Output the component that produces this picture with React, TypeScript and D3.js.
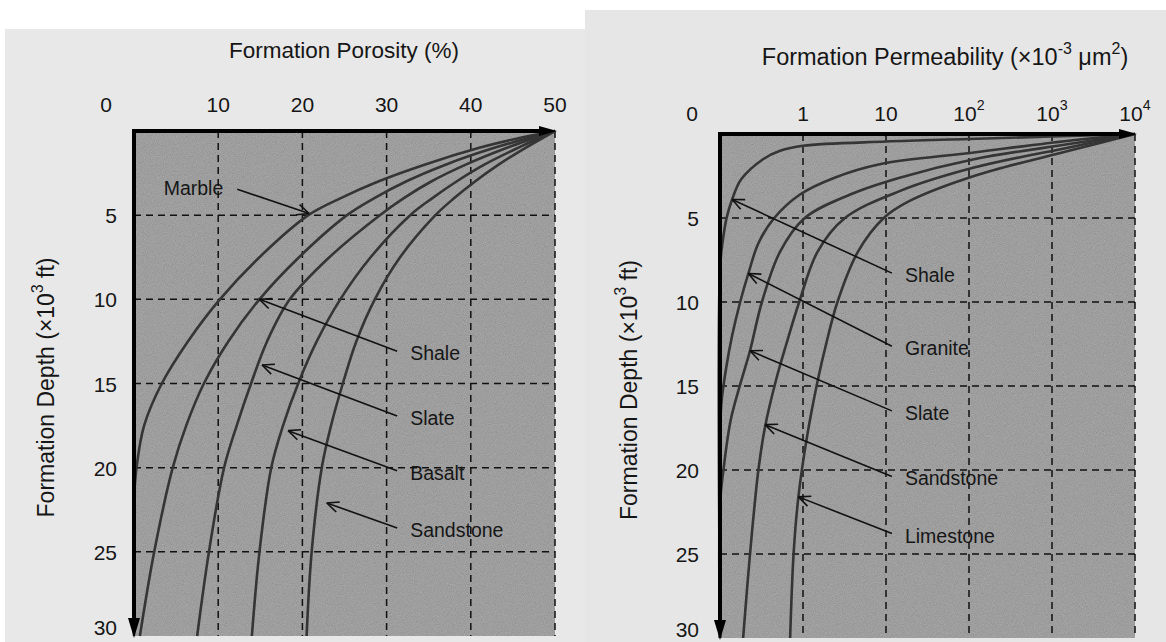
import React, { useEffect, useRef } from 'react';
import * as d3 from 'd3';

// depth is in 10^3 ft, porosity in %, permeability in 10^-3 um^2
const porosityTicks = [0, 10, 20, 30, 40, 50];
const depthTicks = [5, 10, 15, 20, 25, 30];
const permTicks = [0.1, 1, 10, 100, 1000, 10000];
const permTickLabels = [['0', ''], ['1', ''], ['10', ''], ['10', '2'], ['10', '3'], ['10', '4']];

// [depth, porosity]
const marblePorosity = [[0, 50], [0.5, 45], [1, 41], [2, 34.5], [3, 29], [4, 24.5], [5, 20.7], [7.5, 14.9], [10, 10.2], [12.5, 6.4], [15, 3.3], [17.5, 1.2], [20, 0.3], [22, 0], [30, 0]];
const shalePorosity = [[0, 50], [1, 42.8], [2, 37], [3, 32.3], [4, 28.5], [5, 25.3], [7.5, 19.6], [10, 14.9], [12.5, 11.2], [15, 8.3], [17.5, 6.2], [20, 4.6], [25, 2.4], [30, 0.7]];
const slatePorosity = [[0, 50], [1, 44.3], [2, 39.4], [3, 35.3], [4, 32], [5, 29.2], [7.5, 23.2], [10, 18.5], [12.5, 15.8], [15, 13.9], [17.5, 12.2], [20, 10.7], [25, 8.9], [30, 7.5]];
const basaltPorosity = [[0, 50], [1, 45.6], [2, 41.6], [3, 38.3], [4, 35.4], [5, 32.8], [7.5, 28.1], [10, 24.5], [12.5, 21.7], [15, 19.5], [17.5, 17.7], [20, 16.3], [25, 14.9], [30, 14]];
const sandstonePorosity = [[0, 50], [1, 46.5], [2, 43.3], [3, 40.5], [4, 38], [5, 35.8], [7.5, 31.6], [10, 28.6], [12.5, 26.4], [15, 24.8], [17.5, 23.4], [20, 22.3], [25, 21.1], [30, 20.5]];

// [depth, permeability]
const shalePerm = [[0, 10000], [0.15, 1000], [0.3, 100], [0.45, 10], [0.7, 1], [1, 0.53], [1.5, 0.33], [2.7, 0.18], [3.9, 0.14], [5, 0.12], [6.5, 0.107], [8, 0.1], [30, 0.1]];
const granitePerm = [[0, 10000], [0.4, 1600], [1.1, 115], [1.8, 8.4], [2.6, 2.4], [3.6, 0.92], [5, 0.45], [6.5, 0.29], [8.3, 0.22], [10, 0.175], [12, 0.14], [14, 0.118], [16, 0.104], [18, 0.1], [30, 0.1]];
const slatePerm = [[0, 10000], [0.6, 1600], [1.5, 115], [2.6, 14.6], [3.6, 3.7], [5, 1.05], [7, 0.53], [10, 0.32], [12.9, 0.23], [14.7, 0.18], [17, 0.135], [20, 0.11], [22, 0.1], [30, 0.1]];
const sandstonePerm = [[0, 10000], [0.8, 1600], [2, 115], [3.4, 14.6], [5, 3.2], [7, 1.5], [10, 0.9], [12.5, 0.63], [14.7, 0.47], [17.4, 0.35], [20, 0.29], [25, 0.23], [30, 0.19]];
const limestonePerm = [[0, 10000], [1, 1600], [2.5, 115], [4, 19], [5, 9.4], [7, 4.6], [10, 2.6], [12.5, 1.9], [14.7, 1.5], [18, 1.12], [21.6, 0.88], [25, 0.77], [30, 0.7]];

// annotations: name, label [depth, value], arrow tip [depth, value]
const porosityNotes = [
    ['Shale', [13.2, 32.8], [10, 14.9]],
    ['Slate', [17.05, 32.8], [13.9, 15.2]],
    ['Basalt', [20.3, 32.8], [17.8, 18.3]],
    ['Sandstone', [23.7, 32.8], [22.1, 22.9]],
];
const permNotes = [
    ['Shale', [8.4, 16.9], [3.9, 0.14]],
    ['Granite', [12.75, 16.9], [8.3, 0.22]],
    ['Slate', [16.6, 16.9], [12.9, 0.23]],
    ['Sandstone', [20.5, 16.9], [17.3, 0.35]],
    ['Limestone', [23.9, 16.9], [21.6, 0.88]],
];

const FONT = '"Liberation Sans", Arial, sans-serif';

const App = () => {
    const svgRef = useRef(null);

    useEffect(() => {
        const svg = d3.select(svgRef.current);
        svg.selectAll('*').remove();

        const defs = svg.append('defs');
        const grain = defs.append('filter').attr('id', 'grain')
            .attr('x', 0).attr('y', 0).attr('width', 1).attr('height', 1);
        grain.append('feTurbulence').attr('type', 'fractalNoise')
            .attr('baseFrequency', 1.1).attr('numOctaves', 1).attr('seed', 4).attr('result', 'noise');
        grain.append('feColorMatrix').attr('in', 'noise').attr('type', 'matrix')
            .attr('values', '0.33 0.33 0.33 0 0  0.33 0.33 0.33 0 0  0.33 0.33 0.33 0 0  0 0 0 0 0.3')
            .attr('result', 'g');
        grain.append('feComposite').attr('in', 'g').attr('in2', 'SourceGraphic').attr('operator', 'in').attr('result', 'gi');
        const merge = grain.append('feMerge');
        merge.append('feMergeNode').attr('in', 'SourceGraphic');
        merge.append('feMergeNode').attr('in', 'gi');

        // page backgrounds
        svg.append('rect').attr('x', 5).attr('y', 29).attr('width', 580).attr('height', 613).attr('fill', '#e8e8e8');
        svg.append('rect').attr('x', 585).attr('y', 10).attr('width', 581).attr('height', 632).attr('fill', '#e6e6e6');

        // text with optional superscript parts: [string, isSup]
        const addText = (g, x, y, parts, size, opts = {}) => {
            const t = g.append('text')
                .attr('x', x).attr('y', y)
                .attr('font-family', FONT)
                .attr('font-size', size)
                .attr('fill', '#161616')
                .attr('text-anchor', opts.anchor || 'middle')
                .attr('dominant-baseline', 'central');
            if (opts.rotate) t.attr('transform', `rotate(-90, ${x}, ${y})`);
            let raised = false;
            parts.forEach(([s, sup]) => {
                const ts = t.append('tspan').text(s);
                if (sup) {
                    ts.attr('dy', -size * 0.38).attr('font-size', size * 0.68);
                    raised = true;
                } else if (raised) {
                    ts.attr('dy', size * 0.38);
                    raised = false;
                }
            });
            return t;
        };

        const drawNoteArrow = (g, x1, y1, x2, y2) => {
            g.append('line').attr('x1', x1).attr('y1', y1).attr('x2', x2).attr('y2', y2)
                .attr('stroke', '#111').attr('stroke-width', 1.6);
            const a = Math.atan2(y1 - y2, x1 - x2);
            [-0.42, 0.42].forEach(da => {
                g.append('line').attr('x1', x2).attr('y1', y2)
                    .attr('x2', x2 + 13 * Math.cos(a + da)).attr('y2', y2 + 13 * Math.sin(a + da))
                    .attr('stroke', '#111').attr('stroke-width', 1.6);
            });
        };

        const drawPanel = (cfg) => {
            const { x, y, xTicks, yTicks, curves, notes, tickLabel, title, titleSize, titleX, titleY, tickY, yTitleX, yLabelX } = cfg;
            const g = svg.append('g');
            const [x0, x1] = x.range();
            const [y0, y1] = y.range();

            g.append('rect').attr('x', x0).attr('y', y0).attr('width', x1 - x0).attr('height', y1 - y0)
                .attr('fill', '#8f8f8f').attr('filter', 'url(#grain)');

            // grid
            xTicks.slice(1).forEach(v => {
                g.append('line').attr('x1', x(v)).attr('x2', x(v)).attr('y1', y0).attr('y2', y1)
                    .attr('stroke', '#111').attr('stroke-width', 1.5).attr('stroke-dasharray', '7,5');
            });
            yTicks.slice(0, -1).forEach(v => {
                g.append('line').attr('x1', x0).attr('x2', x1).attr('y1', y(v)).attr('y2', y(v))
                    .attr('stroke', '#111').attr('stroke-width', 1.5).attr('stroke-dasharray', '7,5');
            });

            // curves
            const line = d3.line()
                .x(d => x(d[1]))
                .y(d => y(d[0]))
                .curve(d3.curveCatmullRom.alpha(0.5));
            curves.forEach(c => {
                g.append('path').attr('d', line(c)).attr('fill', 'none')
                    .attr('stroke', '#353535').attr('stroke-width', 2.6);
            });

            // annotations
            notes.forEach(([name, lab, tip]) => {
                const lx = x(lab[1]);
                const ly = y(lab[0]);
                drawNoteArrow(g, lx - 13, ly - 2, x(tip[1]), y(tip[0]));
                addText(g, lx, ly, [[name]], 19.5, { anchor: 'start' });
            });

            // axes with arrows
            g.append('line').attr('x1', x0).attr('x2', x1 - 12).attr('y1', y0).attr('y2', y0)
                .attr('stroke', '#000').attr('stroke-width', 4);
            g.append('path').attr('d', `M${x1 - 16},${y0 - 5}L${x1 + 2},${y0}L${x1 - 16},${y0 + 5}Z`).attr('fill', '#000');
            g.append('line').attr('x1', x0).attr('x2', x0).attr('y1', y0 - 2).attr('y2', y1 - 14)
                .attr('stroke', '#000').attr('stroke-width', 4);
            g.append('path').attr('d', `M${x0 - 6},${y1 - 18}L${x0},${y1 + 2}L${x0 + 6},${y1 - 18}Z`).attr('fill', '#000');

            // tick labels
            xTicks.forEach((v, i) => {
                const px = i === 0 ? x(v) - 28 : x(v);
                addText(g, px, tickY, tickLabel(i), 21);
            });
            yTicks.forEach(v => {
                addText(g, yLabelX, Math.min(y(v), y1 - 9), [[String(v)]], 21, { anchor: 'end' });
            });

            addText(g, titleX, titleY, title, titleSize);
            addText(g, yTitleX, (y0 + y1) / 2 + 4, [['Formation Depth (\u00d710'], ['3', true], [' ft)']], 23, { rotate: true });
            return g;
        };

        const xPor = d3.scaleLinear().domain([0, 50]).range([134, 555]);
        const yPor = d3.scaleLinear().domain([0, 30]).range([131, 636]);
        const left = drawPanel({
            x: xPor, y: yPor,
            xTicks: porosityTicks, yTicks: depthTicks,
            curves: [marblePorosity, shalePorosity, slatePorosity, basaltPorosity, sandstonePorosity],
            notes: porosityNotes,
            tickLabel: i => [[String(porosityTicks[i])]],
            title: [['Formation Porosity (%)']], titleSize: 22.5,
            titleX: 344, titleY: 50, tickY: 104, yTitleX: 46, yLabelX: 117,
        });
        // Marble label sits on the left of its arrow
        const mx = xPor(10.6), my = yPor(3.4);
        drawNoteArrow(left, mx + 14, my + 1, xPor(20.8), yPor(4.9));
        addText(left, mx, my, [['Marble']], 19.5, { anchor: 'end' });

        const xPerm = d3.scaleLog().domain([0.1, 10000]).range([720, 1135]);
        const yPerm = d3.scaleLinear().domain([0, 30]).range([134, 638]);
        drawPanel({
            x: xPerm, y: yPerm,
            xTicks: permTicks, yTicks: depthTicks,
            curves: [shalePerm, granitePerm, slatePerm, sandstonePerm, limestonePerm],
            notes: permNotes,
            tickLabel: i => [[permTickLabels[i][0]], ...(permTickLabels[i][1] ? [[permTickLabels[i][1], true]] : [])],
            title: [['Formation Permeability (\u00d710'], ['-3', true], [' \u03bcm'], ['2', true], [')']], titleSize: 23.5,
            titleX: 945, titleY: 57, tickY: 113, yTitleX: 629, yLabelX: 699,
        });
    }, []);

    return (
        <div style={{ position: 'absolute', left: 0, top: 0, width: 1166, height: 642, background: '#fff' }}>
            <svg ref={svgRef} width={1166} height={642} style={{ display: 'block' }}></svg>
        </div>
    );
};

export default App;
